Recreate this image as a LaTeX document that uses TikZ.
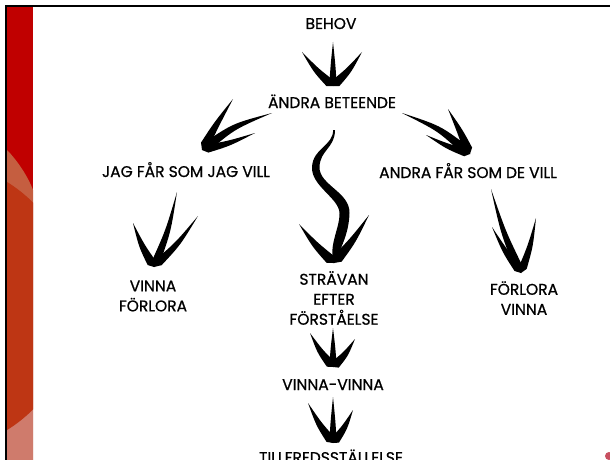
\documentclass[tikz,border=0pt]{standalone}
\usepackage{fontspec}
\setmainfont{Poppins}
\newfontfamily\lblfont{Poppins}[FakeBold=0.7]
\usetikzlibrary{calc}
\definecolor{stripred}{HTML}{C00000}
\definecolor{stripsalmon}{HTML}{C55E40}
\definecolor{stripdark}{HTML}{BE3614}
\definecolor{stripbottom}{HTML}{CF7B6C}
\definecolor{cornermark}{HTML}{C85060}
\tikzset{
  lbl/.style={font=\lblfont\fontsize{15.5}{20}\selectfont, inner sep=0pt, align=center, text=black},
  ink/.style={fill=black},
  frameline/.style={line width=2pt, draw=black}
}
\newcommand\spike[4]{%
  \coordinate (spM) at ($(#1)!0.5!(#2)$);
  \coordinate (spC) at ($(spM)!#4!90:(#2)$);
  \coordinate (spS) at ($(#1)!0.2!(spC)$);
  \fill[ink] (#1) -- ($(spS)!#3/2!90:(spC)$) .. controls ($(spC)!#3/3!90:(#2)$) .. (#2)
     .. controls ($(spC)!#3/3!-90:(#2)$) .. ($(spS)!#3/2!-90:(spC)$) -- cycle;}
\begin{document}
\begin{tikzpicture}[x=1pt,y=-1pt]
\useasboundingbox (0,0) rectangle (610,460);
\clip (0,0) rectangle (610,460);
\fill[white] (0,0) rectangle (610,460);
% left decorative strip
\begin{scope}
  \clip (7,6) rectangle (33,460);
  \fill[stripred] (7,6) rectangle (33,460);
  \fill[stripsalmon] (7,150) .. controls (15,158) and (27,174) .. (33,190) -- (33,460) -- (7,460) -- cycle;
  \fill[stripbottom] (7,300) rectangle (33,460);
  \fill[stripdark] (-70,306) circle[radius=146pt];
\end{scope}
\draw[frameline] (5,6.5) -- (610,6.5);
\draw[frameline] (6,6.5) -- (6,460);
\fill[cornermark] (609,456) circle[radius=4pt];
% labels
\node[lbl, anchor=base] (behov) at (331,29) {BEHOV};
\node[lbl, anchor=base] (andra) at (332,108) {ÄNDRA BETEENDE};
\node[lbl, anchor=base] (jag) at (186,177) {JAG FÅR SOM JAG VILL};
\node[lbl, anchor=base] (de) at (468,178) {ANDRA FÅR SOM DE VILL};
\node[lbl] (vf) at (153,296) {VINNA\\FÖRLORA};
\node[lbl] (sef) at (334,298) {STRÄVAN\\EFTER\\FÖRSTÅELSE};
\node[lbl] (fv) at (524,298) {FÖRLORA\\VINNA};
\node[lbl, anchor=base] (vv) at (333,390) {VINNA-VINNA};
\node[lbl, anchor=base] (till) at (331,463) {TILLFREDSSTÄLLELSE};
% arrow points
\coordinate (t1) at (333,86);  \coordinate (s1) at (333,42);
\coordinate (a1l) at (302,52); \coordinate (a1r) at (362,52);
\coordinate (t2) at (202,150); \coordinate (s2) at (272,113);
\coordinate (a2u) at (233,99); \coordinate (a2d) at (255,133);
\coordinate (t3) at (470,154); \coordinate (s3) at (402,113);
\coordinate (a3u) at (448,109); \coordinate (a3d) at (426,135);
\coordinate (t4) at (334,263);
\coordinate (a4l) at (299,224); \coordinate (a4r) at (369,215);
\coordinate (t5) at (154,267); \coordinate (s5) at (177,192);
\coordinate (a5l) at (133,223); \coordinate (a5r) at (198,216);
\coordinate (t6) at (521,273); \coordinate (s6) at (491,189);
\coordinate (a6l) at (492,227); \coordinate (a6r) at (536,218);
\coordinate (t7) at (333,367); \coordinate (s7) at (333,328);
\coordinate (a7l) at (310,333); \coordinate (a7r) at (355,339);
\coordinate (t8) at (333,443); \coordinate (s8) at (333,397);
\coordinate (a8l) at (308,403); \coordinate (a8r) at (353,410);
% BEHOV -> ANDRA BETEENDE
\spike{t1}{s1}{7pt}{0pt}\spike{t1}{a1l}{9pt}{2pt}\spike{t1}{a1r}{9pt}{-2pt}
% ANDRA BETEENDE -> JAG FAR
\spike{t2}{s2}{9pt}{6pt}\spike{t2}{a2u}{9pt}{1pt}\spike{t2}{a2d}{8pt}{-2pt}
% ANDRA BETEENDE -> ANDRA FAR
\spike{t3}{s3}{9pt}{-6pt}\spike{t3}{a3u}{9pt}{-1pt}\spike{t3}{a3d}{8pt}{2pt}
% wavy centre arrow
\fill[ink] (335,130) .. controls (335,148) and (320,150) .. (319.5,167)
   .. controls (319,185) and (350,192) .. (349.5,213)
   .. controls (349,234) and (340,250) .. (334,263)
   .. controls (328,246) and (340,228) .. (339.5,213)
   .. controls (339,198) and (311,186) .. (312,167)
   .. controls (313,148) and (333,146) .. (333.2,130) -- cycle;
\spike{t4}{a4l}{10pt}{2pt}\spike{t4}{a4r}{10pt}{-2pt}
% JAG FAR -> VINNA FORLORA
\spike{t5}{s5}{8pt}{-3pt}\spike{t5}{a5l}{9pt}{2pt}\spike{t5}{a5r}{8pt}{-3pt}
% ANDRA FAR -> FORLORA VINNA
\spike{t6}{s6}{8pt}{3pt}\spike{t6}{a6l}{8pt}{2pt}\spike{t6}{a6r}{8pt}{-2pt}
% STRAVAN -> VINNA-VINNA
\spike{t7}{s7}{7pt}{0pt}\spike{t7}{a7l}{9pt}{2pt}\spike{t7}{a7r}{9pt}{-2pt}
% VINNA-VINNA -> TILLFREDSSTALLELSE
\spike{t8}{s8}{7pt}{0pt}\spike{t8}{a8l}{9pt}{2pt}\spike{t8}{a8r}{9pt}{-2pt}
\end{tikzpicture}
\end{document}
